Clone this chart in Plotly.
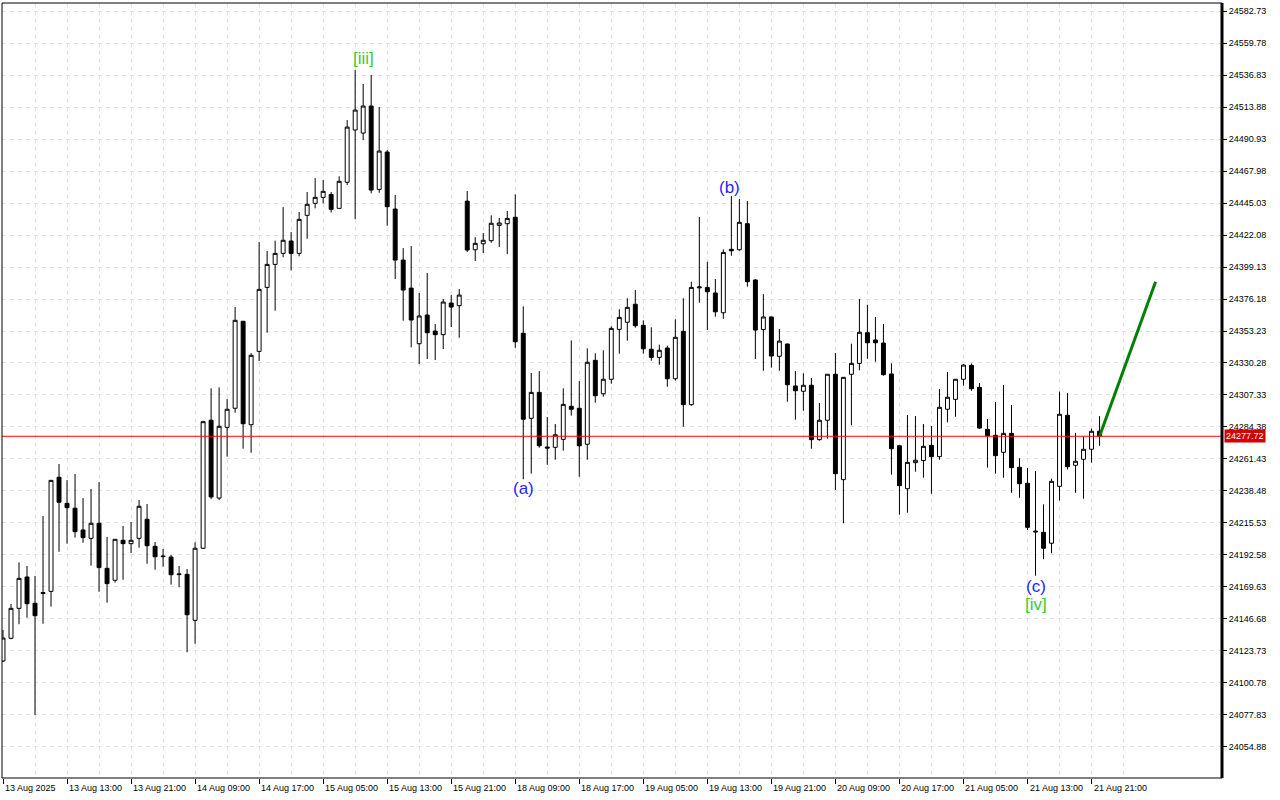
import plotly.graph_objects as go

# ---- data (hourly candles, index 0..137) ----
opens = [24116.5,24132.8,24154.3,24176.8,24157.9,24165.0,24166.5,24248.3,24229.6,24226.1,
         24210.5,24204.5,24215.3,24183.0,24174.4,24203.1,24200.7,24204.5,24218.2,24198.8,
         24191.9,24191.1,24178.5,24178.7,24145.7,24197.4,24289.2,24233.4,24284.1,24297.8,
         24360.2,24286.0,24338.6,24384.5,24401.0,24408.9,24417.8,24408.9,24436.2,24444.8,
         24449.1,24451.2,24441.2,24459.9,24497.4,24495.2,24514.6,24454.8,24481.6,24440.7,
         24404.1,24384.0,24344.1,24364.7,24353.2,24350.6,24373.3,24371.4,24446.4,24411.5,
         24415.8,24418.0,24429.0,24430.2,24434.8,24351.6,24290.6,24309.2,24270.0,24269.8,
         24275.5,24299.2,24297.8,24272.0,24332.2,24308.2,24318.6,24354.4,24359.5,24372.4,
         24357.3,24340.1,24334.3,24341.0,24319.0,24353.0,24300.4,24384.2,24384.5,24380.5,
         24366.3,24411.8,24411.5,24430.2,24389.8,24354.3,24363.3,24335.1,24343.9,24313.8,
         24310.0,24314.3,24275.3,24289.2,24322.2,24246.6,24322.2,24330.0,24352.0,24346.8,
         24344.6,24322.4,24270.9,24240.1,24258.8,24260.3,24271.2,24263.1,24297.1,24304.2,
         24318.6,24328.6,24312.8,24282.7,24278.4,24266.2,24279.8,24255.5,24244.0,24209.0,
         24208.8,24201.0,24241.8,24292.8,24256.9,24261.2,24268.4,24281.3]
highs = [24138.8,24157.4,24187.3,24184.7,24177.5,24220.5,24246.3,24257.8,24246.3,24250.7,
         24233.4,24239.9,24244.9,24205.5,24204.0,24213.4,24216.2,24232.0,24229.1,24201.9,
         24196.9,24192.6,24184.7,24182.5,24201.7,24288.9,24312.1,24312.8,24304.4,24370.4,
         24360.4,24337.4,24417.0,24410.6,24418.0,24442.1,24424.2,24438.6,24452.9,24462.9,
         24461.5,24452.9,24464.2,24504.5,24540.4,24530.4,24536.8,24513.9,24483.0,24450.8,
         24412.7,24414.2,24380.5,24394.8,24358.2,24376.2,24379.0,24383.3,24453.6,24420.6,
         24423.5,24436.2,24434.3,24439.3,24451.3,24370.9,24323.1,24324.5,24291.5,24286.5,
         24312.1,24346.5,24317.3,24340.8,24337.2,24339.4,24356.6,24368.8,24376.7,24382.6,
         24360.9,24355.9,24343.4,24342.7,24361.6,24376.7,24388.6,24435.0,24402.9,24390.5,
         24411.8,24450.0,24447.9,24446.4,24390.5,24379.7,24363.6,24354.6,24344.2,24324.5,
         24322.9,24319.5,24301.6,24322.4,24337.4,24320.2,24344.1,24376.2,24372.1,24363.3,
         24358.2,24330.0,24271.2,24293.0,24292.2,24286.5,24285.1,24311.6,24323.8,24318.8,
         24329.5,24330.0,24315.9,24290.1,24302.3,24314.5,24300.1,24261.9,24255.0,24252.8,
         24228.9,24247.3,24309.8,24308.7,24280.1,24277.7,24283.3,24292.2]
lows = [24115.8,24132.1,24142.9,24147.6,24077.8,24143.3,24155.5,24194.9,24200.7,24205.0,
        24201.4,24184.9,24166.2,24158.3,24172.7,24174.8,24194.0,24197.8,24186.3,24182.0,
        24184.2,24171.3,24169.4,24122.8,24128.9,24196.9,24232.7,24232.0,24263.1,24294.6,
        24268.8,24265.9,24331.7,24352.0,24367.8,24406.1,24396.7,24406.8,24419.4,24441.2,
        24444.8,24438.3,24441.2,24457.9,24433.5,24490.2,24452.0,24452.4,24428.7,24390.5,
        24360.6,24341.5,24329.5,24333.1,24332.4,24340.3,24356.1,24348.4,24409.9,24403.4,
        24409.2,24416.5,24413.5,24408.4,24341.2,24246.9,24250.9,24269.5,24257.3,24260.9,
        24267.4,24292.5,24248.7,24260.9,24301.8,24306.1,24315.4,24336.9,24346.3,24355.6,
        24336.9,24331.9,24329.0,24313.3,24317.6,24284.6,24299.6,24373.5,24353.9,24363.5,
        24362.0,24407.2,24410.8,24385.0,24333.1,24324.7,24326.9,24324.7,24302.5,24289.6,
        24296.1,24268.8,24274.5,24276.0,24239.2,24215.3,24285.6,24325.0,24333.3,24331.2,
        24321.2,24250.2,24221.5,24222.9,24252.3,24248.0,24236.5,24260.9,24287.7,24291.7,
        24314.0,24310.4,24283.1,24255.2,24250.9,24248.0,24237.2,24233.6,24210.5,24177.7,
        24189.5,24193.8,24231.6,24253.9,24237.2,24232.9,24258.8,24270.9]
closes = [24133.0,24154.3,24175.8,24157.6,24149.0,24165.6,24246.1,24230.4,24226.5,24209.3,
          24205.0,24215.3,24183.5,24172.0,24203.8,24200.7,24203.1,24227.5,24199.2,24191.3,
          24191.4,24178.4,24178.9,24149.7,24197.4,24288.2,24234.2,24284.9,24297.1,24360.9,
          24286.7,24335.8,24383.1,24401.0,24408.9,24418.3,24408.9,24433.3,24444.1,24449.1,
          24453.4,24440.5,24460.6,24499.5,24511.7,24514.6,24454.3,24482.3,24442.4,24404.1,
          24382.6,24361.1,24364.0,24352.0,24350.6,24374.0,24370.4,24379.0,24411.3,24416.1,
          24418.3,24430.5,24430.7,24434.0,24345.5,24289.9,24309.2,24270.9,24269.3,24278.8,
          24300.6,24297.1,24270.9,24330.8,24306.8,24318.6,24355.1,24363.0,24370.2,24357.0,
          24340.5,24334.3,24339.4,24319.0,24348.7,24300.4,24384.5,24384.8,24381.4,24367.0,
          24409.6,24410.8,24431.2,24388.6,24353.9,24363.3,24335.3,24346.0,24314.7,24310.4,
          24314.3,24275.3,24289.2,24322.2,24250.9,24320.0,24330.0,24352.3,24344.8,24344.8,
          24321.9,24268.8,24242.3,24259.0,24260.5,24270.5,24263.1,24298.5,24305.7,24318.6,
          24328.8,24311.8,24283.6,24278.1,24263.8,24279.8,24255.2,24243.7,24212.4,24209.6,
          24197.4,24245.4,24293.5,24255.9,24259.8,24268.4,24281.3,24277.72]
bar_index = list(range(len(opens)))

x_tick_bars = list(range(0, 137, 8))
x_tick_labels = ["13 Aug 2025", "13 Aug 13:00", "13 Aug 21:00", "14 Aug 09:00", "14 Aug 17:00",
                 "15 Aug 05:00", "15 Aug 13:00", "15 Aug 21:00", "18 Aug 09:00", "18 Aug 17:00",
                 "19 Aug 05:00", "19 Aug 13:00", "19 Aug 21:00", "20 Aug 09:00", "20 Aug 17:00",
                 "21 Aug 05:00", "21 Aug 13:00", "21 Aug 21:00"]
y_tick_values = [24054.88 + 22.95 * k for k in range(24)]
y_tick_labels = [f"{v:.2f}" for v in y_tick_values]

current_price = 24277.72
forecast_x = [137, 144]
forecast_y = [24277.72, 24388.6]

wave_labels = ["[iii]", "(a)", "(b)", "(c)", "[iv]"]
wave_x = [45, 65, 90.75, 129, 129]
wave_y = [24549.0, 24240.6, 24456.5, 24170.3, 24157.4]
wave_colors = ["#3cc83c", "#1f1fff", "#1f1fff", "#1f1fff", "#3cc83c"]

FONT = "Liberation Sans, Arial, sans-serif"

# ---- figure ----
fig = go.Figure()
fig.add_trace(go.Candlestick(
    x=bar_index, open=opens, high=highs, low=lows, close=closes,
    increasing=dict(line=dict(color="black", width=1), fillcolor="white"),
    decreasing=dict(line=dict(color="black", width=1), fillcolor="black"),
    whiskerwidth=0, hoverinfo="skip", showlegend=False))

fig.add_trace(go.Scatter(x=forecast_x, y=forecast_y, mode="lines",
                         line=dict(color="#008000", width=3), hoverinfo="skip", showlegend=False))

grid = dict(showgrid=True, gridcolor="#e2e2e2", griddash="4px,4px", gridwidth=1)

fig.update_layout(
    width=1280, height=800,
    margin=dict(l=2, r=58, t=3, b=22),
    paper_bgcolor="white", plot_bgcolor="white",
    font=dict(family=FONT, size=9, color="black"),
    xaxis=dict(range=[-0.125, 152.3], rangeslider=dict(visible=False),
               tickmode="array", tickvals=x_tick_bars, ticktext=[""] * len(x_tick_bars),
               ticks="outside", ticklen=5, tickcolor="black", showticklabels=False,
               zeroline=False, showline=False,
               minor=dict(tickvals=[b + 4 for b in x_tick_bars], showgrid=True,
                          gridcolor="#e2e2e2", griddash="4px,4px", ticks=""),
               **grid),
    yaxis=dict(side="right", range=[24032.6, 24588.5], tickmode="array",
               tickvals=y_tick_values, ticktext=y_tick_labels,
               ticks="outside", ticklen=4, tickcolor="black",
               tickfont=dict(family=FONT, size=9, color="black"),
               zeroline=False, showline=False, **grid),
)

shapes = [
    dict(type="line", xref="paper", yref="y", x0=0, x1=1, y0=current_price, y1=current_price,
         line=dict(color="#ff0000", width=1), layer="above"),
    dict(type="rect", xref="paper", yref="paper", x0=0, x1=1, y0=0, y1=1,
         line=dict(color="black", width=1), layer="above"),
    dict(type="line", xref="paper", yref="paper", x0=1, x1=1, y0=0, y1=1,
         line=dict(color="black", width=3), layer="above"),
]
fig.update_layout(shapes=shapes)

annotations = []
for b, lab in zip(x_tick_bars, x_tick_labels):
    annotations.append(dict(x=b, y=0, xref="x", yref="paper", text=lab, showarrow=False,
                            xanchor="left", yanchor="top", xshift=0, yshift=-3,
                            font=dict(family=FONT, size=9, color="black")))
for t, xv, yv, c in zip(wave_labels, wave_x, wave_y, wave_colors):
    annotations.append(dict(x=xv, y=yv, xref="x", yref="y", text=t, showarrow=False,
                            xanchor="center", yanchor="middle",
                            font=dict(family=FONT, size=17, color=c)))
annotations.append(dict(x=1, y=current_price, xref="paper", yref="y", text=f"{current_price:.2f}",
                        showarrow=False, xanchor="left", yanchor="middle", xshift=2,
                        bgcolor="#d40000", borderpad=1,
                        font=dict(family=FONT, size=9, color="white")))
fig.update_layout(annotations=annotations)

fig.write_html("out.html", config={"displayModeBar": False},
               post_script="document.body.style.margin='0px';")
